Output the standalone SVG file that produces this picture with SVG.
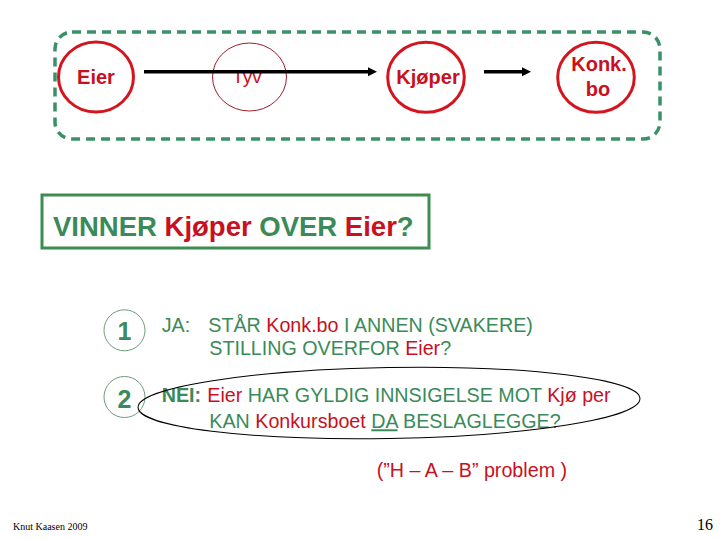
<svg xmlns="http://www.w3.org/2000/svg" width="720" height="540" viewBox="0 0 720 540">
<defs>
<style>
.node{fill:none;stroke:#d4141e;stroke-width:3}
.lbl{font-family:"Liberation Sans",Arial,sans-serif;font-size:20px;font-weight:bold;fill:#c8101e;text-anchor:middle}
.g{fill:#3a8a5a}
.r{fill:#c8101e}
.body{font-family:"Liberation Sans",Arial,sans-serif;font-size:19.7px}
.num{font-family:"Liberation Sans",Arial,sans-serif;font-size:25px;font-weight:bold;fill:#3a8a5a;text-anchor:middle}
.numc{fill:none;stroke:#6e9a7c;stroke-width:1}
.conn{stroke:#000;stroke-width:3.5;fill:none}
</style>
<marker id="ah" viewBox="0 0 10 10" refX="0" refY="5" markerWidth="2.6" markerHeight="2.8" orient="auto" markerUnits="strokeWidth">
<path d="M0,0 L10,5 L0,10 Z" fill="#000"/>
</marker>
</defs>
<rect width="720" height="540" fill="#fff"/>

<rect id="frame" x="55" y="32" width="605" height="107" rx="17" fill="none" stroke="#3a9168" stroke-width="3.5" stroke-dasharray="9,6"/>

<g id="eier">
<ellipse class="node" cx="96" cy="77" rx="37.5" ry="35"/>
<text class="lbl" x="96" y="83.5">Eier</text>
</g>
<g id="tyv">
<ellipse cx="249.5" cy="77" rx="37" ry="34" fill="none" stroke="#a01c2a" stroke-width="1"/>
<text x="247" y="82.5" font-family="Liberation Sans, Arial, sans-serif" font-size="19px" fill="#c8101e" text-anchor="middle">Tyv</text>
</g>
<g id="kjoper">
<ellipse class="node" cx="426" cy="77.3" rx="38.3" ry="35"/>
<text class="lbl" x="428" y="83.5">Kjøper</text>
</g>
<g id="konkbo">
<ellipse class="node" cx="596" cy="77.3" rx="38.3" ry="35"/>
<text class="lbl" x="599" y="71">Konk.</text>
<text class="lbl" x="598" y="96">bo</text>
</g>

<g id="connectors">
<line class="conn" x1="144" y1="71.7" x2="368" y2="71.7" marker-end="url(#ah)"/>
<line class="conn" x1="484" y1="71.7" x2="522" y2="71.7" stroke-width="3" marker-end="url(#ah)"/>
</g>

<g id="question">
<rect x="42" y="195" width="387" height="53" fill="none" stroke="#3d8c50" stroke-width="3"/>
<text x="53" y="236" font-family="Liberation Sans, Arial, sans-serif" font-size="27.5px" font-weight="bold" class="g">VINNER <tspan class="r">Kjøper</tspan> OVER <tspan class="r">Eier</tspan>?</text>
</g>

<g id="item1">
<circle class="numc" cx="124.5" cy="330.3" r="20.5"/>
<text class="num" x="124.5" y="340">1</text>
<text class="body g" x="161.7" y="331.7">JA:</text>
<text class="body g" x="208.3" y="331.7">STÅR <tspan class="r">Konk.bo</tspan> I ANNEN (SVAKERE)</text>
<text class="body g" x="209.3" y="355">STILLING OVERFOR <tspan class="r">Eier</tspan>?</text>
</g>

<g id="item2">
<circle class="numc" cx="124.5" cy="397" r="20.5"/>
<text class="num" x="124.5" y="408">2</text>
<text class="body g" x="161.7" y="401.7" font-weight="bold">NEI:</text>
<text class="body g" x="207.3" y="401.7"><tspan class="r">Eier</tspan> HAR GYLDIG INNSIGELSE MOT <tspan class="r">Kjø per</tspan></text>
<text class="body g" x="209.3" y="428.3">KAN <tspan class="r">Konkursboet</tspan> <tspan text-decoration="underline">DA</tspan> BESLAGLEGGE?</text>
<ellipse cx="389" cy="403" rx="251" ry="35.5" fill="none" stroke="#000" stroke-width="1" transform="rotate(-1 389 403)"/>
</g>

<text class="body r" x="376.7" y="476.7">(”H – A – B” problem )</text>

<text x="13" y="530" font-family="Liberation Serif, Times New Roman, serif" font-size="10px" fill="#000">Knut Kaasen 2009</text>
<text x="713" y="530" font-family="Liberation Serif, Times New Roman, serif" font-size="16px" fill="#000" text-anchor="end">16</text>
</svg>
